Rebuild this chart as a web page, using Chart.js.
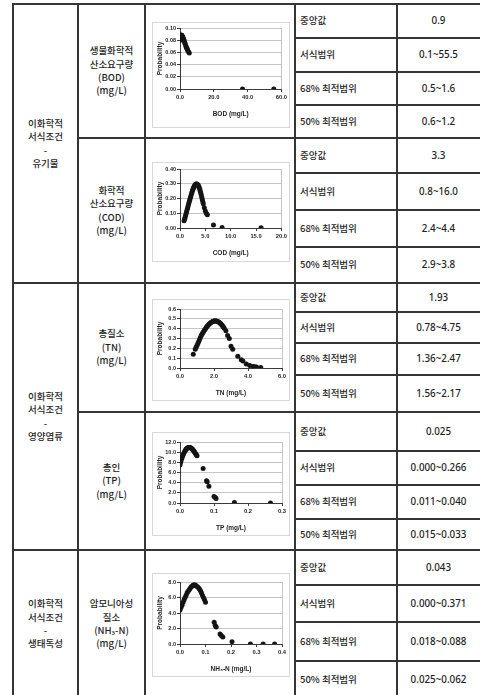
<!DOCTYPE html>
<html>
<head>
<meta charset="utf-8">
<script src="https://cdn.jsdelivr.net/npm/chart.js@4.4.1/dist/chart.umd.min.js"></script>
<style>
  body { margin: 0; background: #fff; }
  #sheet { position: relative; width: 480px; height: 695px; overflow: hidden; background: #fff;
           font-family: "Noto Sans CJK KR", "Noto Sans", sans-serif; color: #1e1e1e; font-weight: 500; }
  .ln { position: absolute; background: #353535; }
  .cell { position: absolute; display: flex; flex-direction: column; justify-content: center;
          font-size: 9.5px; line-height: 13.4px; white-space: nowrap; }
  .center { align-items: center; text-align: center; }
  .left { align-items: flex-start; padding-left: 5px; box-sizing: border-box; }
  .num { font-family: "Noto Sans", "Noto Sans CJK KR", sans-serif; font-size: 9.8px; }
  .box { position: absolute; border: 1px solid #d8d8d8; box-sizing: border-box; background: #fff; }
  .box canvas { display: block; }
</style>
</head>
<body>
<div id="sheet"></div>
<script>
// ---------- table text ----------
const groupLabels = [
  ['이화학적', '서식조건', '-', '유기물'],
  ['이화학적', '서식조건', '-', '영양염류'],
  ['이화학적', '서식조건', '-', '생태독성']
];
const itemLabels = [
  ['생물화학적', '산소요구량', '(BOD)', '(mg/L)'],
  ['화학적', '산소요구량', '(COD)', '(mg/L)'],
  ['총질소', '(TN)', '(mg/L)'],
  ['총인', '(TP)', '(mg/L)'],
  ['암모니아성', '질소', '(NH₃-N)', '(mg/L)']
];
const statLabels = ['중앙값', '서식범위', '68% 최적범위', '50% 최적범위'];
const bodStats = ['0.9', '0.1~55.5', '0.5~1.6', '0.6~1.2'];
const codStats = ['3.3', '0.8~16.0', '2.4~4.4', '2.9~3.8'];
const tnStats  = ['1.93', '0.78~4.75', '1.36~2.47', '1.56~2.17'];
const tpStats  = ['0.025', '0.000~0.266', '0.011~0.040', '0.015~0.033'];
const nhStats  = ['0.043', '0.000~0.371', '0.018~0.088', '0.025~0.062'];

// ---------- probability curves (concentration, probability) ----------
const bodX = [0.1, 0.3, 0.4, 0.5, 0.6, 0.7, 0.8, 0.9, 1.0, 1.1, 1.2, 1.3, 1.4, 1.6, 1.8, 2.0, 2.2, 2.5, 2.8, 3.1, 3.4, 3.7, 4.0, 4.3, 4.6, 5.0, 5.5, 37.0, 55.5];
const bodP = [0.080, 0.083, 0.085, 0.086, 0.087, 0.088, 0.088, 0.088, 0.088, 0.087, 0.087, 0.086, 0.086, 0.085, 0.084, 0.082, 0.081, 0.079, 0.076, 0.074, 0.071, 0.069, 0.067, 0.065, 0.063, 0.061, 0.059, 0.000, 0.000];

const codX = [0.8, 0.9, 1.0, 1.1, 1.2, 1.3, 1.4, 1.5, 1.6, 1.7, 1.8, 1.9, 2.0, 2.1, 2.2, 2.3, 2.4, 2.5, 2.6, 2.7, 2.8, 2.9, 3.0, 3.1, 3.2, 3.3, 3.4, 3.5, 3.6, 3.7, 3.8, 3.9, 4.0, 4.1, 4.2, 4.3, 4.4, 4.5, 4.6, 4.8, 5.0, 5.2, 5.4, 6.6, 8.3, 16.0];
const codP = [0.050, 0.060, 0.072, 0.084, 0.097, 0.110, 0.123, 0.136, 0.149, 0.162, 0.175, 0.188, 0.200, 0.212, 0.224, 0.236, 0.247, 0.257, 0.266, 0.275, 0.282, 0.288, 0.293, 0.296, 0.298, 0.299, 0.297, 0.294, 0.289, 0.282, 0.273, 0.262, 0.250, 0.237, 0.223, 0.208, 0.193, 0.178, 0.164, 0.138, 0.116, 0.100, 0.090, 0.020, 0.004, 0.001];

const tnX = [0.78, 0.90, 0.95, 1.00, 1.05, 1.10, 1.15, 1.20, 1.25, 1.30, 1.35, 1.40, 1.45, 1.50, 1.55, 1.60, 1.65, 1.70, 1.75, 1.80, 1.85, 1.90, 1.95, 2.00, 2.05, 2.10, 2.15, 2.20, 2.25, 2.30, 2.35, 2.40, 2.45, 2.50, 2.55, 2.60, 2.70, 2.80, 2.90, 3.00, 3.10, 3.40, 3.60, 3.70, 3.90, 4.10, 4.30, 4.40, 4.50, 4.75];
const tnP = [0.14, 0.19, 0.21, 0.23, 0.25, 0.27, 0.29, 0.31, 0.33, 0.345, 0.36, 0.375, 0.39, 0.40, 0.415, 0.425, 0.435, 0.445, 0.452, 0.46, 0.465, 0.47, 0.475, 0.477, 0.478, 0.478, 0.477, 0.474, 0.47, 0.465, 0.458, 0.45, 0.44, 0.43, 0.418, 0.405, 0.38, 0.33, 0.30, 0.22, 0.19, 0.12, 0.085, 0.07, 0.04, 0.025, 0.015, 0.012, 0.01, 0.005];

const tpX = [0.000, 0.002, 0.004, 0.006, 0.008, 0.010, 0.012, 0.014, 0.016, 0.018, 0.020, 0.022, 0.024, 0.026, 0.028, 0.030, 0.032, 0.034, 0.036, 0.038, 0.040, 0.042, 0.044, 0.046, 0.048, 0.050, 0.068, 0.078, 0.080, 0.085, 0.100, 0.104, 0.106, 0.160, 0.266];
const tpP = [7.5, 8.0, 8.5, 8.9, 9.3, 9.6, 9.9, 10.2, 10.4, 10.6, 10.7, 10.8, 10.9, 10.9, 10.9, 10.9, 10.8, 10.7, 10.6, 10.5, 10.3, 10.1, 9.9, 9.7, 9.5, 9.3, 6.8, 4.4, 4.2, 3.3, 1.3, 1.1, 0.9, 0.1, 0.0];

const nhX = [0.000, 0.004, 0.008, 0.012, 0.016, 0.020, 0.024, 0.028, 0.032, 0.036, 0.040, 0.044, 0.048, 0.052, 0.056, 0.060, 0.064, 0.068, 0.072, 0.076, 0.080, 0.084, 0.088, 0.092, 0.096, 0.100, 0.134, 0.138, 0.142, 0.157, 0.162, 0.168, 0.204, 0.276, 0.326, 0.371];
const nhP = [4.4, 4.7, 5.0, 5.4, 5.7, 6.0, 6.3, 6.6, 6.8, 7.0, 7.2, 7.4, 7.5, 7.6, 7.6, 7.6, 7.5, 7.4, 7.3, 7.1, 6.9, 6.6, 6.3, 6.0, 5.7, 5.4, 2.8, 2.4, 2.2, 1.3, 1.1, 0.9, 0.3, 0.0, 0.0, 0.0];

// ---------- axis ticks ----------
const bodXTicks = [0, 20, 40, 60];
const bodYTicks = [0, 0.02, 0.04, 0.06, 0.08, 0.10];
const codXTicks = [0, 5, 10, 15, 20];
const codYTicks = [0, 0.10, 0.20, 0.30, 0.40];
const tnXTicks  = [0, 2, 4, 6];
const tnYTicks  = [0, 0.1, 0.2, 0.3, 0.4, 0.5, 0.6];
const tpXTicks  = [0, 0.1, 0.2, 0.3];
const tpYTicks  = [0, 2, 4, 6, 8, 10, 12];
const nhXTicks  = [0, 0.1, 0.2, 0.3, 0.4];
const nhYTicks  = [0, 2, 4, 6, 8];

const axisTitles = ['BOD (mg/L)', 'COD (mg/L)', 'TN (mg/L)', 'TP (mg/L)', 'NH₃-N (mg/L)'];
const yTitle = 'Probability';

// ---------- table layout ----------
const COLS = [13, 78, 145, 295, 397, 482];
const GROUP_ROWS = [4, 283, 550, 698];
const ITEM_ROWS = [4, 138, 283, 412, 550, 698];
const STAT_ROWS = [
  [4, 38, 72, 105, 138],
  [138, 173, 210, 247, 283],
  [283, 312, 343, 375, 412],
  [412, 451, 485, 519, 550],
  [550, 585, 622, 661, 698]
];
const LINE_W = 2;

const sheet = document.getElementById('sheet');

function hline(x0, x1, y) {
  const d = document.createElement('div');
  d.className = 'ln';
  Object.assign(d.style, { left: (x0 - LINE_W / 2) + 'px', top: (y - LINE_W / 2) + 'px',
                           width: (x1 - x0 + LINE_W) + 'px', height: LINE_W + 'px' });
  sheet.appendChild(d);
}
function vline(x, y0, y1) {
  const d = document.createElement('div');
  d.className = 'ln';
  Object.assign(d.style, { left: (x - LINE_W / 2) + 'px', top: (y0 - LINE_W / 2) + 'px',
                           width: LINE_W + 'px', height: (y1 - y0 + LINE_W) + 'px' });
  sheet.appendChild(d);
}
function cell(x0, x1, y0, y1, lines, cls) {
  const d = document.createElement('div');
  d.className = 'cell ' + cls;
  Object.assign(d.style, { left: x0 + 'px', top: y0 + 'px', width: (x1 - x0) + 'px', height: (y1 - y0) + 'px' });
  lines.forEach(t => {
    const s = document.createElement('div');
    s.textContent = t;
    d.appendChild(s);
  });
  sheet.appendChild(d);
}

// grid lines
COLS.slice(0, 5).forEach(x => vline(x, GROUP_ROWS[0], GROUP_ROWS[3]));
GROUP_ROWS.forEach(y => hline(COLS[0], COLS[5], y));
ITEM_ROWS.forEach(y => hline(COLS[1], COLS[5], y));
STAT_ROWS.forEach(rows => rows.forEach(y => hline(COLS[3], COLS[5], y)));

// text
groupLabels.forEach((lines, g) => cell(COLS[0], COLS[1], GROUP_ROWS[g], GROUP_ROWS[g + 1], lines, 'center'));
itemLabels.forEach((lines, i) => cell(COLS[1], COLS[2], ITEM_ROWS[i], ITEM_ROWS[i + 1], lines, 'center'));
const allStats = [bodStats, codStats, tnStats, tpStats, nhStats];
allStats.forEach((vals, i) => {
  const rows = STAT_ROWS[i];
  statLabels.forEach((lab, r) => {
    cell(COLS[3], COLS[4], rows[r], rows[r + 1], [lab], 'left');
    cell(COLS[4], COLS[5] - 2, rows[r], rows[r + 1], [vals[r]], 'center num');
  });
});

// ---------- charts ----------
Chart.defaults.font.family = "'Liberation Sans', Arial, sans-serif";
Chart.defaults.color = '#1e1e1e';

const BOX_LEFT = 152, BOX_W = 138;
const Y_AXIS_W = 23, X_AXIS_H = 29;

// light frame on the right side of the plot area
const plotFrame = {
  id: 'plotFrame',
  beforeDatasetsDraw(chart) {
    const { ctx, chartArea: a } = chart;
    ctx.save();
    ctx.strokeStyle = '#c4c4c4';
    ctx.lineWidth = 1;
    ctx.beginPath();
    ctx.moveTo(Math.round(a.right) + 0.5, a.top);
    ctx.lineTo(Math.round(a.right) + 0.5, a.bottom);
    ctx.stroke();
    ctx.restore();
  }
};

const panels = [
  { xs: bodX, ys: bodP, xt: bodXTicks, yt: bodYTicks, xd: 1, yd: 2, title: axisTitles[0], box: [22, 128], plot: [28, 89] },
  { xs: codX, ys: codP, xt: codXTicks, yt: codYTicks, xd: 1, yd: 2, title: axisTitles[1], box: [162, 262], plot: [169, 228] },
  { xs: tnX,  ys: tnP,  xt: tnXTicks,  yt: tnYTicks,  xd: 1, yd: 1, title: axisTitles[2], box: [299, 401], plot: [309, 368] },
  { xs: tpX,  ys: tpP,  xt: tpXTicks,  yt: tpYTicks,  xd: 1, yd: 1, title: axisTitles[3], box: [432, 536], plot: [442, 503] },
  { xs: nhX,  ys: nhP,  xt: nhXTicks,  yt: nhYTicks,  xd: 1, yd: 1, title: axisTitles[4], box: [573, 677], plot: [582, 644] }
];

panels.forEach(p => {
  const wrap = document.createElement('div');
  wrap.className = 'box';
  const bh = p.box[1] - p.box[0];
  Object.assign(wrap.style, { left: BOX_LEFT + 'px', top: p.box[0] + 'px', width: BOX_W + 'px', height: bh + 'px' });
  const cv = document.createElement('canvas');
  const cw = BOX_W - 2, ch = bh - 2;
  cv.width = cw; cv.height = ch;
  cv.style.width = cw + 'px'; cv.style.height = ch + 'px';
  wrap.appendChild(cv);
  sheet.appendChild(wrap);

  const canvasTop = p.box[0] + 1;
  const padTop = p.plot[0] - canvasTop;
  const padBottom = (canvasTop + ch) - (p.plot[1] + X_AXIS_H);

  new Chart(cv, {
    type: 'scatter',
    data: {
      datasets: [{
        data: p.xs.map((v, i) => ({ x: v, y: p.ys[i] })),
        pointRadius: 2.5,
        pointBackgroundColor: '#141414',
        pointBorderWidth: 0,
        pointStyle: 'circle'
      }]
    },
    options: {
      responsive: false,
      animation: false,
      devicePixelRatio: 1,
      layout: { autoPadding: false, padding: { left: 3, right: 7, top: padTop, bottom: padBottom } },
      plugins: { legend: { display: false }, tooltip: { enabled: false } },
      scales: {
        x: {
          type: 'linear',
          min: p.xt[0], max: p.xt[p.xt.length - 1],
          afterBuildTicks: s => { s.ticks = p.xt.map(v => ({ value: v })); },
          afterFit: s => { s.height = X_AXIS_H; },
          ticks: { font: { size: 5.8, weight: 'bold' }, padding: 2, maxRotation: 0, autoSkip: false,
                   callback: v => Number(v).toFixed(p.xd) },
          grid: { drawOnChartArea: false, drawTicks: true, tickLength: 3, tickColor: '#3a3a3a' },
          border: { color: '#3a3a3a', width: 1 },
          title: { display: true, text: p.title, font: { size: 6.5, weight: 'bold' }, padding: 0 }
        },
        y: {
          type: 'linear',
          min: p.yt[0], max: p.yt[p.yt.length - 1],
          afterBuildTicks: s => { s.ticks = p.yt.map(v => ({ value: v })); },
          afterFit: s => { s.width = Y_AXIS_W + 1; },
          ticks: { font: { size: 5.5, weight: 'bold' }, padding: 1, autoSkip: false,
                   callback: v => Number(v).toFixed(p.yd) },
          grid: { color: c => (c.index === 0 ? 'rgba(0,0,0,0)' : '#c6c6c6'), lineWidth: 1,
                  drawTicks: true, tickLength: 3, tickColor: '#3a3a3a' },
          border: { color: '#3a3a3a', width: 1 },
          title: { display: true, text: yTitle, font: { size: 6.5, weight: 'bold' }, padding: 0 }
        }
      }
    },
    plugins: [plotFrame]
  });
});
</script>
</body>
</html>
